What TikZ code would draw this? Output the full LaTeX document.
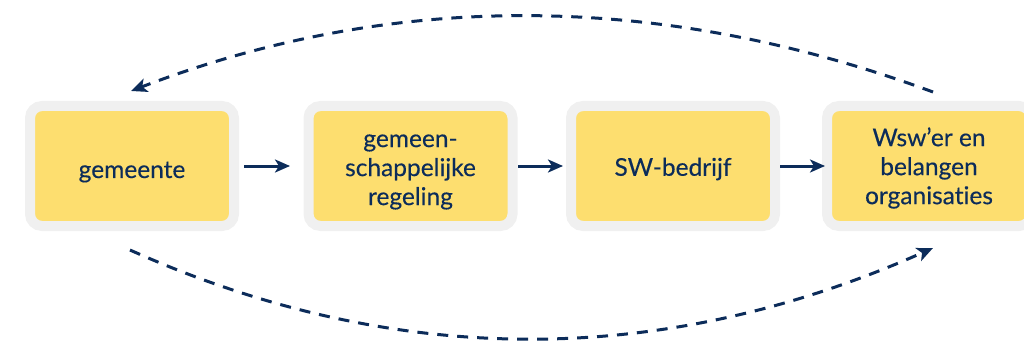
\documentclass[tikz,border=0pt]{standalone}
\usepackage{fontspec}
\setmainfont{Lato}[Ligatures=NoCommon]
\newfontfamily\stagefont{Lato}[Ligatures=NoCommon, FakeBold=0.3]
\usetikzlibrary{arrows.meta}
\definecolor{navy}{HTML}{0C2C5A}
\definecolor{boxfill}{HTML}{FDDE6F}
\definecolor{boxrim}{HTML}{F0F0F0}
\begin{document}
\begin{tikzpicture}[x=1pt,y=-1pt,
  stage/.style={draw=boxrim, fill=boxfill, line width=10pt, rounded corners=12pt,
    minimum width=204pt, minimum height=120pt, inner sep=0pt},
  stagetext/.style={inner sep=0pt, align=center, text=navy,
    font=\stagefont\fontsize{24.5}{29}\selectfont},
  flow/.style={navy, line width=3pt, -{Stealth[length=15pt,width=13pt,inset=4pt]}},
  loop/.style={navy, line width=3pt, dash pattern=on 11pt off 9pt,
    -{Stealth[length=16pt,width=14pt,inset=4pt]}}]
\clip (0,0) rectangle (1024,342);

% the four stages of the chain
\node[stage] (n1) at (132,166) {};
\node[stage] (n2) at (410.5,166) {};
\node[stage] (n3) at (673,166) {};
\node[stage] (n4) at (929,166) {};

\node[stagetext] (t1) at ([yshift=-6pt]n1.center) {gemeente};
\node[stagetext] (t2) at ([yshift=-6pt]n2.center) {gemeen-\\schappelijke\\regeling};
\node[stagetext] (t3) at ([yshift=-3pt]n3.center) {SW-bedrijf};
\node[stagetext] (t4) at ([yshift=-2pt]n4.center) {Wsw’er en\\belangen\\organisaties};

% forward flow between the stages
\draw[flow, shorten <=5pt, shorten >=13.5pt] (n1.east) -- (n2.west);
\draw[flow, shorten <=0.5pt, shorten >=3pt] (n2.east) -- (n3.west);
\draw[flow, shorten >=-3pt] (n3.east) -- (n4.west);

% feedback loops over and under the chain
\draw[loop] ([xshift=4pt,yshift=9pt]n4.north) .. controls (659,-9) and (392,-9) .. ([xshift=-1pt,yshift=10pt]n1.north);
\draw[loop] ([xshift=-2pt,yshift=-19pt]n1.south) .. controls (396,369) and (663,368) .. ([xshift=4pt,yshift=-17pt]n4.south);
\end{tikzpicture}
\end{document}
